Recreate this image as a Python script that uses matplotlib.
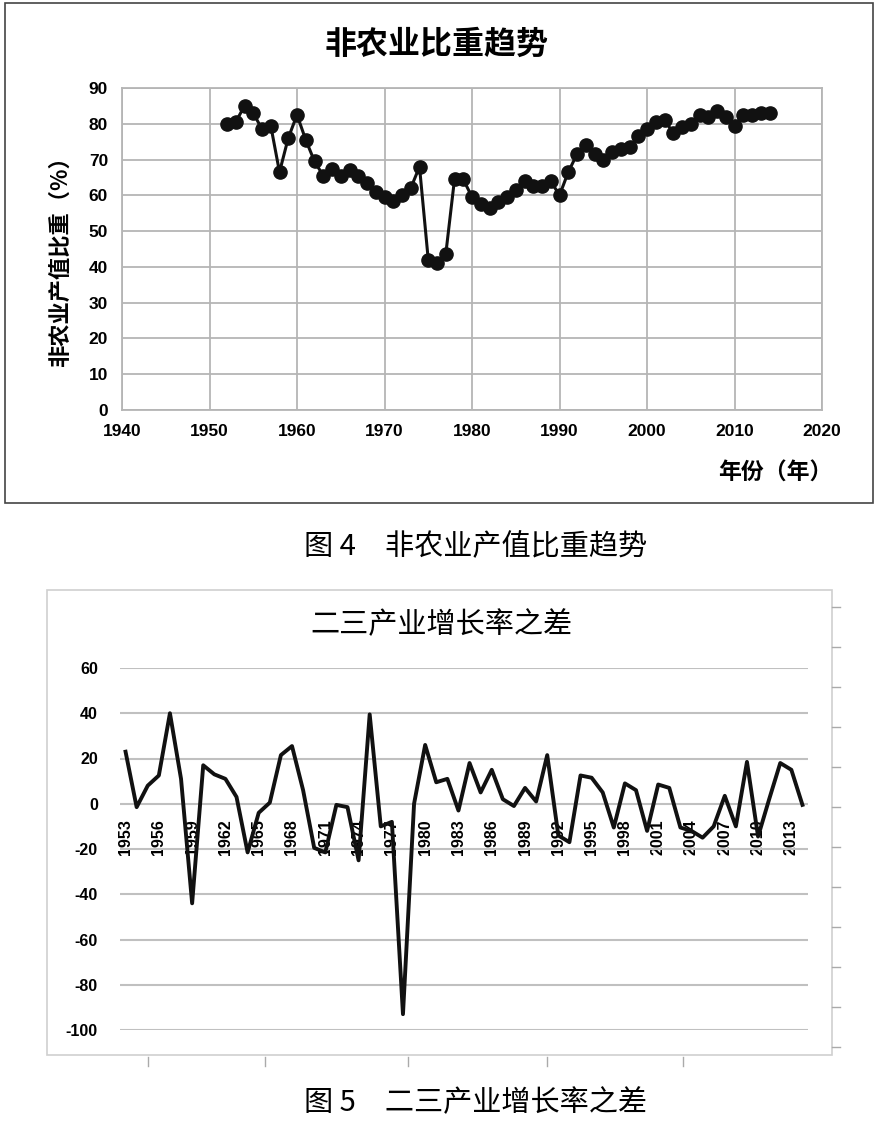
import matplotlib.pyplot as plt
from matplotlib.patches import Rectangle
from matplotlib.lines import Line2D
import numpy as np

plt.rcParams['font.family'] = ['Liberation Sans', 'Noto Sans CJK SC', 'DejaVu Sans']
plt.rcParams['axes.unicode_minus'] = False
CJK = ['Noto Sans CJK SC', 'DejaVu Sans']

# 图4 数据：非农业产值比重 (%)
years1 = list(range(1952, 2015))
share = [80, 80.5, 85, 83, 78.5, 79.5, 66.5, 76, 82.5, 75.5,
         69.5, 65.5, 67.5, 65.5, 67, 65.5, 63.5, 61, 59.5, 58.5,
         60, 62, 68, 42, 41, 43.5, 64.5, 64.5, 59.5, 57.5,
         56.5, 58, 59.5, 61.5, 64, 62.5, 62.5, 64, 60, 66.5,
         71.5, 74, 71.5, 70, 72, 73, 73.5, 76.5, 78.5, 80.5,
         81, 77.5, 79, 80, 82.5, 82, 83.5, 82, 79.5, 82.5,
         82.5, 83, 83]

# 图5 数据：二三产业增长率之差
years2 = [str(y) for y in range(1953, 2015)]
diff = [23, -1.5, 8, 12.5, 40, 11, -44, 17, 13, 11,
        3, -21.5, -4, 0.5, 21.5, 25.5, 6, -19.5, -21.5, -0.5,
        -1.5, -25, 39.5, -10, -8, -93, 0, 26, 9.5, 11,
        -3, 18, 5, 15, 2, -1, 7, 1, 21.5, -14,
        -17, 12.5, 11.5, 5, -10.5, 9, 6, -12, 8.5, 7,
        -10.5, -12, -15, -10, 3.5, -10, 18.5, -14.5, 2, 18,
        15, -0.5]

W, H = 878, 1130
fig = plt.figure(figsize=(W / 100, H / 100), dpi=100)

# frames around the two pictures
fig.add_artist(Rectangle((5 / W, 1 - 503 / H), 868 / W, 500 / H, transform=fig.transFigure,
                         fill=False, edgecolor='#444444', lw=1.2))
fig.add_artist(Rectangle((47 / W, 1 - 1055 / H), 785 / W, 465 / H, transform=fig.transFigure,
                         fill=False, edgecolor='#cfcfcf', lw=1.2))
for xp in [148, 265, 408, 547, 683]:
    fig.add_artist(Line2D([xp / W, xp / W], [1 - 1057 / H, 1 - 1066 / H],
                          transform=fig.transFigure, color='#aaaaaa', lw=1))
for yp in np.arange(607, 1050, 40):
    fig.add_artist(Line2D([832 / W, 840 / W], [1 - yp / H, 1 - yp / H],
                          transform=fig.transFigure, color='#aaaaaa', lw=1))

# ---------- 图4 ----------
ax1 = fig.add_axes([122 / W, 1 - 410 / H, 700 / W, 322 / H])
ax1.plot(years1, share, color='#111111', lw=2.2, marker='o', ms=9.5,
         markerfacecolor='#111111', markeredgecolor='#111111')
ax1.set_xlim(1940, 2020)
ax1.set_ylim(0, 90)
ax1.set_xticks(range(1940, 2021, 10))
ax1.set_yticks(range(0, 91, 10))
ax1.grid(True, color='#b5b5b5', lw=1.3)
ax1.set_axisbelow(True)
for s in ax1.spines.values():
    s.set_color('#b5b5b5')
    s.set_linewidth(1.3)
ax1.tick_params(length=0, labelsize=12.5, pad=10)
for lab in ax1.get_xticklabels() + ax1.get_yticklabels():
    lab.set_fontweight('bold')
fig.text(437 / W, 1 - 45 / H, '非农业比重趋势', family=CJK, fontsize=23,
         fontweight='bold', ha='center', va='center')
fig.text(60 / W, 1 - 255 / H, '非农业产值比重（%）', family=CJK, fontsize=16,
         fontweight='bold', rotation=90, ha='center', va='center')
fig.text(775 / W, 1 - 473 / H, '年份（年）', family=CJK, fontsize=16.5,
         fontweight='bold', ha='center', va='center')
fig.text(476 / W, 1 - 547 / H, '图 4　非农业产值比重趋势', family=CJK, fontsize=21,
         fontweight='medium', ha='center', va='center')

# ---------- 图5 ----------
ax2 = fig.add_axes([120 / W, 1 - 1030 / H, 688 / W, 362 / H])
x = np.arange(len(years2))
ax2.plot(x, diff, color='#111111', lw=2.8)
ax2.set_xlim(-0.5, len(years2) - 0.5)
ax2.set_ylim(-100, 60)
ax2.set_yticks(range(-100, 61, 20))
ax2.yaxis.grid(True, color='#c0c0c0', lw=1.5)
ax2.set_axisbelow(True)
for s in ax2.spines.values():
    s.set_visible(False)
ax2.spines['bottom'].set_position(('data', 0))
ax2.set_xticks(x[::3])
ax2.set_xticklabels(years2[::3], rotation=90, fontsize=11.5, fontweight='bold')
ax2.tick_params(axis='x', length=0, pad=11)
ax2.tick_params(axis='y', length=0, labelsize=11.5, pad=16)
for lab in ax2.get_yticklabels():
    lab.set_fontweight('bold')
fig.text(441 / W, 1 - 625 / H, '二三产业增长率之差', family=CJK, fontsize=21,
         fontweight='medium', ha='center', va='center')
fig.text(476 / W, 1 - 1103 / H, '图 5　二三产业增长率之差', family=CJK, fontsize=21,
         fontweight='medium', ha='center', va='center')

fig.savefig('out.png', dpi=100)
